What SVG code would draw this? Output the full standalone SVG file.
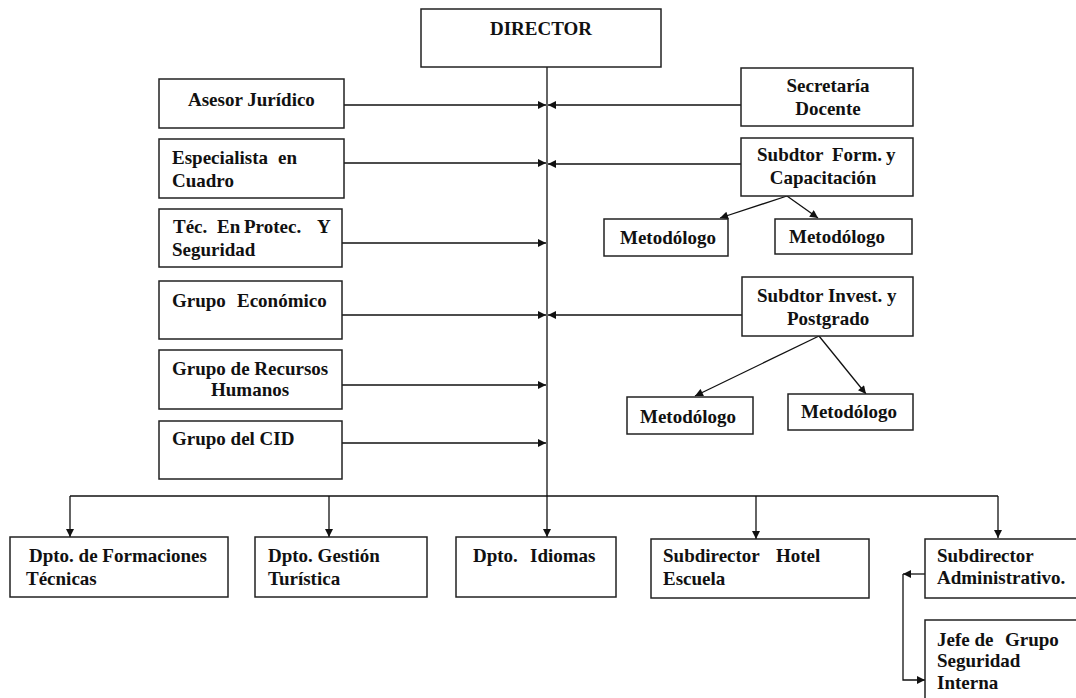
<svg xmlns="http://www.w3.org/2000/svg" width="1076" height="698" viewBox="0 0 1076 698">
<style>
.box{fill:#fff;stroke:#222;stroke-width:1.5}
.t{font-family:"Liberation Serif","Times New Roman",serif;font-weight:bold;font-size:19px;fill:#111}
.m{text-anchor:middle}
.c{fill:none;stroke:#111;stroke-width:1.3}
</style>
<defs>
<marker id="ah" viewBox="0 0 10 10" refX="10" refY="5" markerUnits="userSpaceOnUse" markerWidth="9" markerHeight="8" orient="auto">
<path d="M0,0 L10,5 L0,10 z" fill="#111"/>
</marker>
</defs>
<rect width="1076" height="698" fill="#fff"/>
<g id="connectors">
<path class="c" d="M547,67 V537" marker-end="url(#ah)"/>
<path class="c" d="M344,105 H546" marker-end="url(#ah)"/>
<path class="c" d="M344,163 H546" marker-end="url(#ah)"/>
<path class="c" d="M342,243 H546" marker-end="url(#ah)"/>
<path class="c" d="M342,315 H546" marker-end="url(#ah)"/>
<path class="c" d="M342,385 H546" marker-end="url(#ah)"/>
<path class="c" d="M342,443 H546" marker-end="url(#ah)"/>
<path class="c" d="M741,105 H548" marker-end="url(#ah)"/>
<path class="c" d="M741,164 H548" marker-end="url(#ah)"/>
<path class="c" d="M742,315 H548" marker-end="url(#ah)"/>
<path class="c" d="M787,196 L720,218" marker-end="url(#ah)"/>
<path class="c" d="M787,196 L818,218" marker-end="url(#ah)"/>
<path class="c" d="M819,336 L695,396" marker-end="url(#ah)"/>
<path class="c" d="M819,336 L866,394" marker-end="url(#ah)"/>
<path class="c" d="M70,496 H998"/>
<path class="c" d="M70,496 V537" marker-end="url(#ah)"/>
<path class="c" d="M329,496 V537" marker-end="url(#ah)"/>
<path class="c" d="M756,496 V539" marker-end="url(#ah)"/>
<path class="c" d="M998,496 V538" marker-end="url(#ah)"/>
<path class="c" d="M925,574 H903" marker-end="url(#ah)"/>
<path class="c" d="M903,574 V680 H925" marker-end="url(#ah)"/>
</g>
<g id="director"><rect class="box" x="421" y="9" width="240" height="58"/><text class="t" x="490" y="35">DIRECTOR</text></g>
<g id="asesor"><rect class="box" x="159" y="79" width="185" height="49"/><text class="t" x="188" y="106">Asesor Jurídico</text></g>
<g id="especialista"><rect class="box" x="159" y="139" width="185" height="59"/><text class="t" x="172" y="164">Especialista<tspan x="278">en</tspan></text><text class="t" x="172" y="187">Cuadro</text></g>
<g id="tec"><rect class="box" x="159" y="209" width="183" height="58"/><text class="t" x="173" y="233">Téc.<tspan x="217">En</tspan><tspan x="244">Protec.</tspan><tspan x="317">Y</tspan></text><text class="t" x="172" y="256">Seguridad</text></g>
<g id="economico"><rect class="box" x="159" y="281" width="183" height="58"/><text class="t" x="172" y="307">Grupo<tspan x="237">Económico</tspan></text></g>
<g id="recursos"><rect class="box" x="159" y="350" width="183" height="59"/><text class="t" x="172" y="375">Grupo de Recursos</text><text class="t" x="211" y="396">Humanos</text></g>
<g id="cid"><rect class="box" x="159" y="421" width="183" height="58"/><text class="t" x="172" y="445">Grupo del CID</text></g>
<g id="secretaria"><rect class="box" x="741" y="68" width="172" height="58"/><text class="t m" x="828" y="92">Secretaría</text><text class="t m" x="828" y="115">Docente</text></g>
<g id="subform"><rect class="box" x="741" y="138" width="172" height="58"/><text class="t" x="757" y="161">Subdtor<tspan x="832">Form.</tspan><tspan x="886">y</tspan></text><text class="t m" x="823" y="184">Capacitación</text></g>
<g id="met1"><rect class="box" x="604" y="219" width="124" height="37"/><text class="t" x="620" y="244">Metodólogo</text></g>
<g id="met2"><rect class="box" x="775" y="219" width="137" height="35"/><text class="t" x="789" y="243">Metodólogo</text></g>
<g id="subinv"><rect class="box" x="742" y="277" width="171" height="59"/><text class="t" x="757" y="302">Subdtor Invest. y</text><text class="t" x="787" y="325">Postgrado</text></g>
<g id="met3"><rect class="box" x="627" y="397" width="126" height="37"/><text class="t" x="640" y="423">Metodólogo</text></g>
<g id="met4"><rect class="box" x="788" y="394" width="125" height="36"/><text class="t" x="801" y="418">Metodólogo</text></g>
<g id="formaciones"><rect class="box" x="10" y="537" width="218" height="60"/><text class="t" x="29" y="562">Dpto. de Formaciones</text><text class="t" x="26" y="585">Técnicas</text></g>
<g id="gestion"><rect class="box" x="255" y="537" width="172" height="60"/><text class="t" x="268" y="562">Dpto. Gestión</text><text class="t" x="268" y="585">Turística</text></g>
<g id="idiomas"><rect class="box" x="456" y="537" width="160" height="60"/><text class="t" x="473" y="562">Dpto.<tspan x="530">Idiomas</tspan></text></g>
<g id="hotel"><rect class="box" x="651" y="539" width="218" height="59"/><text class="t" x="663" y="562">Subdirector<tspan x="776">Hotel</tspan></text><text class="t" x="663" y="585">Escuela</text></g>
<g id="admin"><rect class="box" x="925" y="539" width="152" height="59"/><text class="t" x="937" y="562">Subdirector</text><text class="t" x="937" y="584">Administrativo.</text></g>
<g id="seguridad"><rect class="box" x="925" y="620" width="152" height="90"/><text class="t" x="937" y="646">Jefe de<tspan x="1005">Grupo</tspan></text><text class="t" x="937" y="667">Seguridad</text><text class="t" x="937" y="689">Interna</text></g>
</svg>
